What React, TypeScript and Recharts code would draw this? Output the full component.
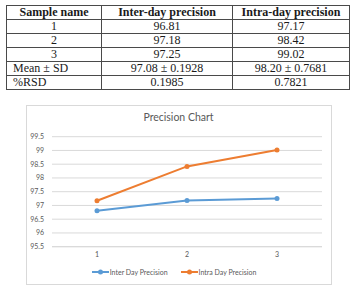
import React from 'react';
import { LineChart, Line, XAxis, YAxis, CartesianGrid, Legend } from 'recharts';

// Precision results per sample
const samples = ['1', '2', '3'];
const interDay = [96.81, 97.18, 97.25];
const intraDay = [97.17, 98.42, 99.02];

// Summary rows of the table
const summaryLabels = ['Mean ± SD', '%RSD'];
const interSummary = ['97.08 ± 0.1928', '0.1985'];
const intraSummary = ['98.20 ± 0.7681', '0.7821'];

const yTicks = [95.5, 96, 96.5, 97, 97.5, 98, 98.5, 99, 99.5];

const BLUE = '#5B9BD5';
const ORANGE = '#ED7D31';
const GRID = '#D9D9D9';
const TEXT = '#595959';
const SANS = 'Lato, "Open Sans", sans-serif';
const SERIF = '"Liberation Serif", "Times New Roman", serif';

const data = samples.map((s, i) => ({ sample: s, inter: interDay[i], intra: intraDay[i] }));

const cell: React.CSSProperties = {
  border: '1px solid #4a4a4a',
  padding: 0,
  textAlign: 'center',
  lineHeight: '13px',
  height: 13,
};

const renderLegend = (props: any) => {
  const payload = props.payload || [];
  return (
    <div
      style={{
        display: 'flex',
        justifyContent: 'center',
        alignItems: 'center',
        height: 12,
        fontFamily: SANS,
        fontSize: 7,
        color: TEXT,
      }}
    >
      {payload.map((p: any, i: number) => (
        <div key={i} style={{ display: 'flex', alignItems: 'center', marginRight: i === payload.length - 1 ? 0 : 13 }}>
          <svg width={17} height={8} style={{ display: 'block' }}>
            <line x1={0} y1={4} x2={17} y2={4} stroke={p.color} strokeWidth={2} />
            <circle cx={8.5} cy={4} r={2.5} fill={p.color} />
          </svg>
          <span style={{ marginLeft: 1, whiteSpace: 'nowrap' }}>{p.value}</span>
        </div>
      ))}
    </div>
  );
};

export default function App() {
  return (
    <div
      style={{
        position: 'absolute',
        left: 0,
        top: 0,
        width: 351,
        height: 290,
        background: '#fff',
        overflow: 'hidden',
      }}
    >
      <table
        style={{
          position: 'absolute',
          left: 6,
          top: 5,
          width: 343,
          borderCollapse: 'collapse',
          fontFamily: SERIF,
          fontSize: 12,
          color: '#1a1a1a',
          tableLayout: 'fixed',
        }}
      >
        <colgroup>
          <col style={{ width: 95 }} />
          <col style={{ width: 131 }} />
          <col style={{ width: 117 }} />
        </colgroup>
        <tbody>
          <tr>
            <td style={{ ...cell, fontWeight: 'bold' }}>Sample name</td>
            <td style={{ ...cell, fontWeight: 'bold' }}>Inter-day precision</td>
            <td style={{ ...cell, fontWeight: 'bold' }}>Intra-day precision</td>
          </tr>
          {samples.map((s, i) => (
            <tr key={s}>
              <td style={cell}>{s}</td>
              <td style={cell}>{interDay[i].toFixed(2)}</td>
              <td style={cell}>{intraDay[i].toFixed(2)}</td>
            </tr>
          ))}
          {summaryLabels.map((label, i) => (
            <tr key={label}>
              <td style={{ ...cell, textAlign: 'left', paddingLeft: 6 }}>{label}</td>
              <td style={cell}>{interSummary[i]}</td>
              <td style={cell}>{intraSummary[i]}</td>
            </tr>
          ))}
        </tbody>
      </table>

      <div
        style={{
          position: 'absolute',
          left: 26,
          top: 105,
          width: 306,
          height: 180,
          boxSizing: 'border-box',
          border: `1px solid ${GRID}`,
        }}
      />
      <div
        style={{
          position: 'absolute',
          left: 26,
          top: 111,
          width: 305,
          textAlign: 'center',
          fontFamily: SANS,
          fontSize: 10.5,
          color: TEXT,
        }}
      >
        Precision Chart
      </div>
      <div style={{ position: 'absolute', left: 26, top: 105 }}>
        <LineChart
          width={305}
          height={179}
          data={data}
          margin={{ top: 31.7, right: 9, left: 0, bottom: 6.3 }}
        >
          <CartesianGrid vertical={false} stroke={GRID} strokeWidth={1} />
          <XAxis
            dataKey="sample"
            height={19}
            padding={{ left: 45, right: 45 }}
            axisLine={{ stroke: GRID }}
            tickLine={false}
            tickSize={0}
            tickMargin={5}
            tick={{ fontSize: 7, fill: TEXT, fontFamily: SANS }}
          />
          <YAxis
            width={26}
            domain={[95.5, 99.5]}
            ticks={yTicks}
            interval={0}
            axisLine={false}
            tickLine={false}
            tickSize={0}
            tickMargin={8}
            tick={{ fontSize: 7, fill: TEXT, fontFamily: SANS }}
          />
          <Legend verticalAlign="bottom" content={renderLegend} />
          <Line
            type="linear"
            dataKey="inter"
            name="Inter Day Precision"
            stroke={BLUE}
            strokeWidth={2}
            dot={{ r: 2.5, fill: BLUE, stroke: BLUE, strokeWidth: 0 }}
            activeDot={false}
            isAnimationActive={false}
          />
          <Line
            type="linear"
            dataKey="intra"
            name="Intra Day Precision"
            stroke={ORANGE}
            strokeWidth={2}
            dot={{ r: 2.5, fill: ORANGE, stroke: ORANGE, strokeWidth: 0 }}
            activeDot={false}
            isAnimationActive={false}
          />
        </LineChart>
      </div>
    </div>
  );
}
